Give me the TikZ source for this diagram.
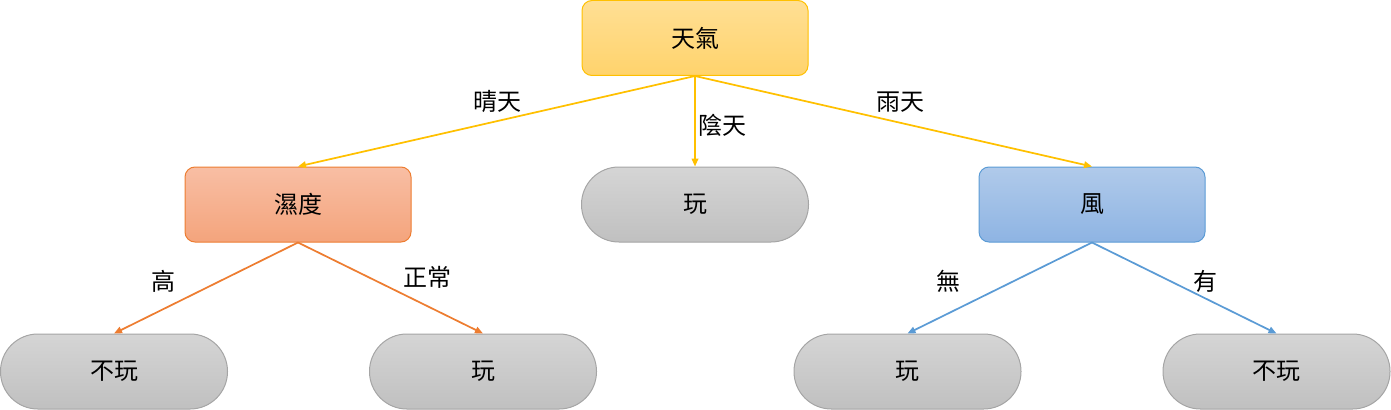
\documentclass[tikz,border=0pt]{standalone}
\usepackage{fontspec}
\newfontfamily\cjk{Noto Sans CJK TC}
\usetikzlibrary{arrows.meta,shadings}
\definecolor{yline}{HTML}{FFC000}
\definecolor{ytop}{HTML}{FFDF94}
\definecolor{ybot}{HTML}{FFD36C}
\definecolor{oline}{HTML}{ED7D31}
\definecolor{otop}{HTML}{F8BEA4}
\definecolor{obot}{HTML}{F4A47C}
\definecolor{bline}{HTML}{5B9BD5}
\definecolor{btop}{HTML}{B0CAEA}
\definecolor{bbot}{HTML}{8EB4E3}
\definecolor{gline}{HTML}{A5A5A5}
\definecolor{gtop}{HTML}{D5D5D5}
\definecolor{gbot}{HTML}{C0C0C0}
\tikzset{
  box/.style={rectangle, rounded corners=7.5pt, minimum width=169.5pt, minimum height=56.25pt, inner sep=0pt, line width=0.75pt, font=\cjk\fontsize{18}{22}\selectfont},
  leafbox/.style={box, rounded corners=28pt, minimum width=170.25pt, draw=gline, top color=gtop, bottom color=gbot},
  lbl/.style={font=\cjk\fontsize{18}{22}\selectfont, inner sep=0pt},
  conn/.style={line width=1.3pt, -{Triangle[length=6pt,width=5pt]}}
}
\begin{document}
\begin{tikzpicture}[x=0.75pt,y=-0.75pt]
\useasboundingbox (0,0) rectangle (1391,410);
\node[box, draw=yline, top color=ytop, bottom color=ybot] (weather) at (695,38) {天氣};
\node[box, draw=oline, top color=otop, bottom color=obot] (humid) at (298,204.5) {濕度};
\node[leafbox] (play1) at (695,204.5) {玩};
\node[box, draw=bline, top color=btop, bottom color=bbot] (wind) at (1092,204.5) {風};
\node[leafbox] (noplay1) at (114,371.5) {不玩};
\node[leafbox] (play2) at (483,371.5) {玩};
\node[leafbox] (play3) at (907.5,371.5) {玩};
\node[leafbox] (noplay2) at (1276.5,371.5) {不玩};

\draw[conn, yline] (weather.south) -- (humid.north);
\draw[conn, yline] (weather.south) -- (play1.north);
\draw[conn, yline] (weather.south) -- (wind.north);
\draw[conn, oline] (humid.south) -- (noplay1.north);
\draw[conn, oline] (humid.south) -- (play2.north);
\draw[conn, bline] (wind.south) -- (play3.north);
\draw[conn, bline] (wind.south) -- (noplay2.north);

\node[lbl] (l1) at (497,102) {晴天};
\node[lbl] (l2) at (722,125) {陰天};
\node[lbl] (l3) at (900,102) {雨天};
\node[lbl] (l4) at (163,281) {高};
\node[lbl] (l5) at (427,277) {正常};
\node[lbl] (l6) at (948,281) {無};
\node[lbl] (l7) at (1205,281) {有};
\end{tikzpicture}
\end{document}
